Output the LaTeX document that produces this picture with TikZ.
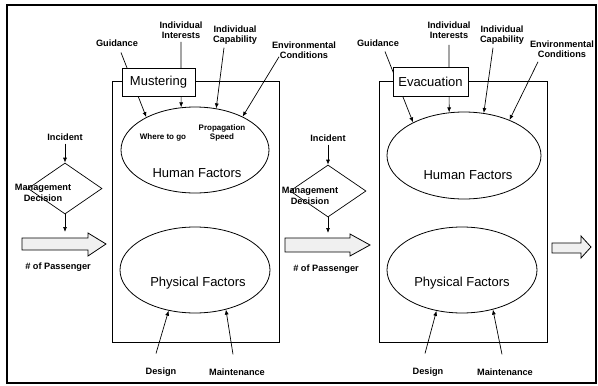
\documentclass[tikz,border=0pt]{standalone}
\usepackage{fontspec}
\setmainfont{Liberation Sans}
\usetikzlibrary{shapes.geometric,arrows.meta}
\begin{document}
\begin{tikzpicture}[x=1pt,y=-1pt,
  lab/.style={font=\bfseries\fontsize{9.2}{10.5}\selectfont, align=center, inner sep=0pt},
  sml/.style={font=\bfseries\fontsize{8}{9}\selectfont, align=center, inner sep=0pt},
  big/.style={font=\fontsize{13}{15}\selectfont, inner sep=0pt},
  frame/.style={draw, line width=0.8pt, inner sep=0pt},
  stagebox/.style={draw, fill=white, line width=0.9pt, font=\fontsize{13}{15}\selectfont, inner sep=0pt},
  factor/.style={draw, ellipse, line width=0.8pt, inner sep=0pt},
  dec/.style={draw, diamond, line width=0.7pt, inner sep=0pt},
  conn/.style={line width=0.7pt, -{Latex[length=5pt,width=4pt]}},
  blockarrow/.style={draw, line width=0.8pt, fill=gray!12},
]
\path[use as bounding box] (0,0) rectangle (598,386);
\draw[line width=1.2pt] (7,5) rectangle (596,383);

% ---------- Mustering stage ----------
\node[frame, minimum width=167pt, minimum height=261pt] (mframe) at (195.5,211.5) {};
\node[factor, minimum width=148pt, minimum height=86pt] (mhf) at (195,150) {};
\node[factor, minimum width=150pt, minimum height=86pt] (mpf) at (195,270) {};
\node[big] (mhftxt) at (197,173) {Human Factors};
\node[big] (mpftxt) at (198,283) {Physical Factors};
\node[sml] (where1) at (163,137) {Where to go};
\node[sml] (prop1) at (222,133) {Propagation\\Speed};

\node[lab] (gd1) at (117,43) {Guidance};
\node[lab] (ii1) at (181,30) {Individual\\Interests};
\node[lab] (ic1) at (235,35) {Individual\\Capability};
\node[lab] (env1) at (304,50) {Environmental\\Conditions};
\node[lab] (ds1) at (161,372) {Design};
\node[lab] (mt1) at (237,372) {Maintenance};

\draw[conn] ([xshift=4pt,yshift=-6pt]gd1.south) -- (mhf.146);
\draw[conn] ([yshift=-3pt]ii1.south) -- (mhf.108.4);
\draw[conn] ([xshift=-11pt,yshift=-3pt]ic1.south) -- (mhf.63);
\draw[conn] ([xshift=-25pt,yshift=2pt]env1.south) -- (mhf.35.2);
\draw[conn] ([xshift=-5pt,yshift=14pt]ds1.north) -- (mpf.237.2);
\draw[conn] ([xshift=-4pt,yshift=14pt]mt1.north) -- (mpf.308.3);

\node[stagebox, minimum width=73pt, minimum height=28pt] (must) at (158.5,82) {Mustering};

% left input
\node[lab] (inc1) at (65,137) {Incident};
\node[dec, minimum width=74pt, minimum height=51pt] (dia1) at (65,188.5) {};
\node[lab] (md1) at (43,193) {Management\\Decision};
\coordinate (ba1top) at (65,232);
\draw[conn] ([yshift=-3pt]inc1.south) -- (dia1.north);
\draw[conn] (dia1.south) -- (ba1top);
\draw[blockarrow] (22,238) -- (88,238) -- (88,233) -- (106,244) -- (88,256) -- (88,250) -- (22,250) -- cycle;
\node[lab] (np1) at (58,267) {\# of Passenger};

% ---------- Evacuation stage ----------
\node[frame, minimum width=168pt, minimum height=261pt] (eframe) at (463,211.5) {};
\node[factor, minimum width=154pt, minimum height=87pt] (ehf) at (464,155.5) {};
\node[factor, minimum width=150pt, minimum height=86pt] (epf) at (462,270) {};
\node[big] (ehftxt) at (468,175) {Human Factors};
\node[big] (epftxt) at (462,283) {Physical Factors};

\node[lab] (gd2) at (378,43) {Guidance};
\node[lab] (ii2) at (449,30) {Individual\\Interests};
\node[lab] (ic2) at (502,35) {Individual\\Capability};
\node[lab] (env2) at (562,49) {Environmental\\Conditions};
\node[lab] (ds2) at (428,372) {Design};
\node[lab] (mt2) at (505,372) {Maintenance};

\draw[conn] ([xshift=7pt,yshift=-5pt]gd2.south) -- (ehf.147.4);
\draw[conn] ([yshift=-6pt]ii2.south) -- (ehf.109.4);
\draw[conn] ([xshift=-9pt,yshift=-3pt]ic2.south) -- (ehf.65.8);
\draw[conn] ([xshift=-24pt,yshift=-4pt]env2.south) -- (ehf.38.1);
\draw[conn] ([xshift=-3pt,yshift=14pt]ds2.north) -- (epf.238.3);
\draw[conn] ([xshift=-3pt,yshift=14pt]mt2.north) -- (epf.308.3);

\node[stagebox, minimum width=75pt, minimum height=29pt] (evac) at (430.5,81.5) {Evacuation};

% middle input
\node[lab] (inc2) at (328,138) {Incident};
\node[dec, minimum width=76pt, minimum height=52pt] (dia2) at (328,191) {};
\node[lab] (md2) at (310,196) {Management\\Decision};
\coordinate (ba2top) at (328,233);
\draw[conn] ([yshift=-3pt]inc2.south) -- (dia2.north);
\draw[conn] (dia2.south) -- (ba2top);
\draw[blockarrow] (285,238) -- (350,238) -- (350,234) -- (370,245) -- (350,256) -- (350,252) -- (285,252) -- cycle;
\node[lab] (np2) at (326,269) {\# of Passenger};

% output arrow
\draw[blockarrow] (552,243) -- (581,243) -- (581,236) -- (591,247) -- (581,258) -- (581,253) -- (552,253) -- cycle;
\end{tikzpicture}
\end{document}
